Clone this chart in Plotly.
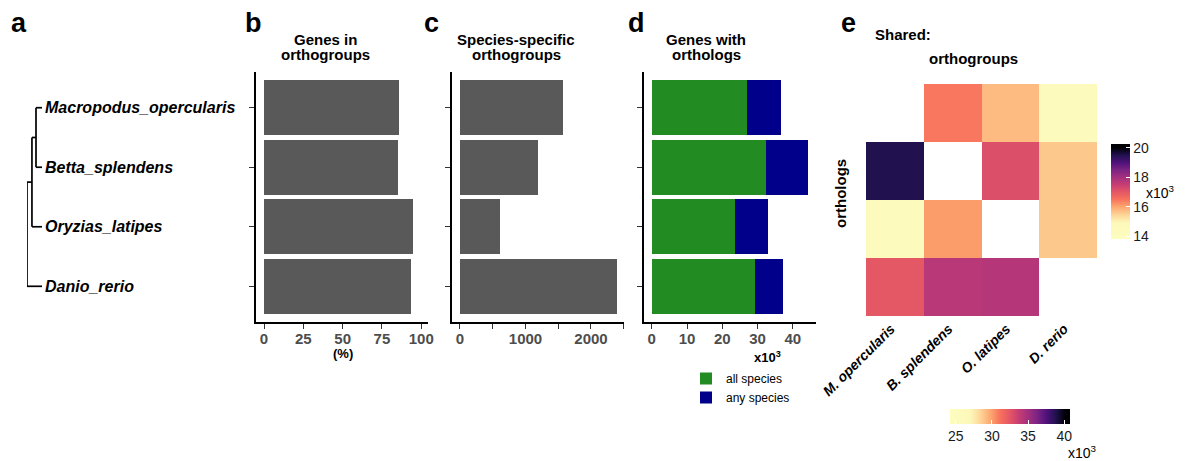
import plotly.graph_objects as go

W, H = 1195, 461
FONT = "Liberation Sans, Arial, Helvetica, sans-serif"

# ---------------- data ----------------
species = ["Macropodus_opercularis", "Betta_splendens", "Oryzias_latipes", "Danio_rerio"]
short_names = ["M. opercularis", "B. splendens", "O. latipes", "D. rerio"]
genes_in_og_pct = [85.9, 85.2, 94.8, 93.5]
species_specific_og = [1573, 1191, 611, 2397]
orthologs_all_species = [26.9, 32.3, 23.5, 29.2]   # x10^3
orthologs_any_species = [9.9, 12.1, 9.4, 8.1]      # x10^3
b_ticks = [0, 25, 50, 75, 100]
c_ticks = [0, 1000, 2000]
c_minor_ticks = [500, 1500, 2500]
d_ticks = [0, 10, 20, 30, 40]
# tree topology (((M,B),O),D) with node depths (cladogram)
tree = (((0, 1), 2), 3)
level_depth = [0.0, 0.33, 0.6]
tip_depth = 1.0
# shared orthogroups (upper triangle, x10^3) and orthologs (lower triangle, x10^3)
shared_orthogroups = [
    [None, 31.0, 29.2, 25.9],
    [None, None, 32.8, 28.8],
    [None, None, None, 28.8],
    [None, None, None, None],
]
shared_orthologs = [
    [None, None, None, None],
    [19.5, None, None, None],
    [14.3, 16.1, None, None],
    [17.0, 17.7, 17.75, None],
]
og_ticks = [25, 30, 35, 40]
orth_ticks = [14, 16, 18, 20]

magma_custom = [
    [0.00, "#fcfdbf"], [0.17, "#fcf8ba"], [0.25, "#fed799"], [0.34, "#fca66f"],
    [0.42, "#f7705c"], [0.50, "#e35566"], [0.57, "#c73e73"], [0.65, "#a3307e"],
    [0.73, "#7a2382"], [0.80, "#51127c"], [0.88, "#221150"], [0.96, "#000004"],
    [1.00, "#000004"],
]


def px(x):
    return x / W


def py(y):
    return 1 - y / H


fig = go.Figure()

# ---------------- tree (panel a) ----------------
seg_x, seg_y = [], []


def draw(node, level):
    if isinstance(node, int):
        return node, tip_depth
    ys = []
    d = level_depth[level]
    for child in node:
        cy, cd = draw(child, level + 1)
        seg_x.extend([d, cd, None])
        seg_y.extend([cy, cy, None])
        ys.append(cy)
    seg_x.extend([d, d, None])
    seg_y.extend([min(ys), max(ys), None])
    return sum(ys) / len(ys), d


draw(tree, 0)
fig.add_trace(go.Scatter(x=seg_x, y=seg_y, mode="lines", line=dict(color="black", width=1.7),
                         xaxis="x", yaxis="y", showlegend=False, hoverinfo="skip"))

# ---------------- bars ----------------
cats = list(range(len(species)))
fig.add_trace(go.Bar(x=genes_in_og_pct, y=cats, orientation="h", width=0.92,
                     marker=dict(color="#595959", line=dict(width=0)),
                     xaxis="x2", yaxis="y2", showlegend=False))
fig.add_trace(go.Bar(x=species_specific_og, y=cats, orientation="h", width=0.92,
                     marker=dict(color="#595959", line=dict(width=0)),
                     xaxis="x3", yaxis="y3", showlegend=False))
fig.add_trace(go.Bar(x=orthologs_all_species, y=cats, orientation="h", width=0.92,
                     name="all species", marker=dict(color="#228b22", line=dict(width=0)),
                     xaxis="x4", yaxis="y4"))
fig.add_trace(go.Bar(x=orthologs_any_species, y=cats, orientation="h", width=0.92,
                     name="any species", marker=dict(color="#00008b", line=dict(width=0)),
                     xaxis="x4", yaxis="y4"))

# ---------------- heatmap ----------------
fig.add_trace(go.Heatmap(z=shared_orthogroups, x=cats, y=cats, coloraxis="coloraxis2",
                         xaxis="x5", yaxis="y5", hoverongaps=False))
fig.add_trace(go.Heatmap(z=shared_orthologs, x=cats, y=cats, coloraxis="coloraxis",
                         xaxis="x5", yaxis="y5", hoverongaps=False))

ydom = [py(322), py(72)]
tickfont = dict(family=FONT, size=15, color="#4d4d4d", weight="bold")


def bar_x(dom, rng, tickvals, minor=None):
    d = dict(domain=dom, range=rng, tickvals=tickvals, showline=True, linecolor="black",
             linewidth=1.5, ticks="outside", ticklen=5, tickwidth=1.3, tickcolor="#333333",
             showgrid=False, zeroline=False, tickfont=tickfont, fixedrange=True,
             automargin=False, ticklabelstandoff=-3)
    if minor is not None:
        d["minor"] = dict(tickvals=minor, ticks="outside", ticklen=5, tickwidth=1.3,
                          tickcolor="#333333", showgrid=False)
    return d


def bar_y(anchor):
    return dict(domain=ydom, range=[3.6, -0.6], tickvals=cats, showticklabels=False,
                showline=True, linecolor="black", linewidth=1.5, ticks="outside",
                ticklen=5, tickwidth=1.3, tickcolor="#333333", showgrid=False,
                zeroline=False, anchor=anchor, fixedrange=True, automargin=False)


fig.update_layout(
    width=W, height=H, margin=dict(l=0, r=0, t=0, b=0, autoexpand=False),
    paper_bgcolor="white", plot_bgcolor="white",
    barmode="stack", bargap=0,
    font=dict(family=FONT, color="black"),
    xaxis=dict(domain=[px(27), px(42)], range=[0, 1], visible=False, fixedrange=True),
    yaxis=dict(domain=ydom, range=[3.6, -0.6], visible=False, fixedrange=True),
    xaxis2=dict(bar_x([px(256), px(428)], [-5.1, 104.3], b_ticks), anchor="y2"),
    yaxis2=bar_y("x2"),
    xaxis3=dict(bar_x([px(452), px(624)], [-122, 2504], c_ticks, c_minor_ticks), anchor="y3"),
    yaxis3=bar_y("x3"),
    xaxis4=dict(bar_x([px(644), px(816)], [-2.2, 46.6], d_ticks), anchor="y4"),
    yaxis4=bar_y("x4"),
    xaxis5=dict(domain=[px(866), px(1097)], range=[-0.5, 3.5], tickvals=cats,
                ticktext=short_names, tickangle=-45, ticks="", showline=False,
                showgrid=False, zeroline=False, anchor="y5", ticklabelstandoff=1,
                ticklabelshift=-4, automargin=False,
                tickfont=dict(family=FONT, size=14, color="black", weight="bold", style="italic")),
    yaxis5=dict(domain=[py(316), py(84)], range=[3.5, -0.5], showticklabels=False,
                ticks="", showline=False, showgrid=False, zeroline=False, anchor="x5",
                automargin=False),
    coloraxis=dict(colorscale=magma_custom, cmin=13.8, cmax=20.27,
                   colorbar=dict(orientation="v", x=px(1111), xanchor="left", xpad=0, ypad=0,
                                 y=py(191.5), yanchor="middle", len=95, lenmode="pixels",
                                 thickness=19, outlinewidth=0, tickvals=orth_ticks,
                                 ticks="inside", tickcolor="white", ticklen=4, tickwidth=1,
                                 tickfont=dict(family=FONT, size=14, color="#1a1a1a"))),
    coloraxis2=dict(colorscale=magma_custom, cmin=24.2, cmax=40.8,
                    colorbar=dict(orientation="h", x=px(1010), xanchor="center", xpad=0, ypad=0,
                                  y=py(409), yanchor="top", len=120, lenmode="pixels",
                                  thickness=15, outlinewidth=0, tickvals=og_ticks,
                                  ticks="inside", tickcolor="white", ticklen=4, tickwidth=1,
                                  tickfont=dict(family=FONT, size=14, color="#1a1a1a"))),
    legend=dict(x=px(686), y=py(364), xanchor="left", yanchor="top", bgcolor="rgba(0,0,0,0)",
                font=dict(family=FONT, size=12, color="black"), tracegroupgap=0,
                traceorder="normal"),
)

ann = []


def add_text(text, x, y, size, xanchor="center", yanchor="middle", weight="normal",
             style="normal", textangle=0, color="black", xref="paper", yref="paper"):
    ann.append(dict(text=text, x=x, y=y, xref=xref, yref=yref, showarrow=False,
                    xanchor=xanchor, yanchor=yanchor, textangle=textangle,
                    font=dict(family=FONT, size=size, color=color, weight=weight, style=style)))


# panel letters
for letter, xpos in [("a", 19), ("b", 253), ("c", 431), ("d", 636), ("e", 848)]:
    add_text(letter, px(xpos), py(23), 27, weight="bold")

# titles (two lines each, tight line spacing as in the reference)
titles = [(325, "Genes in", "orthogroups"),
          (516, "Species-specific", "orthogroups"),
          (706, "Genes with", "orthologs")]
for xc, l1, l2 in titles:
    add_text(l1, px(xc), py(39), 15, weight="bold")
    add_text(l2, px(xc), py(55), 15, weight="bold")
add_text("Shared:", px(873), py(35), 15, xanchor="left", weight="bold")
add_text("orthogroups", px(973), py(59), 15, weight="bold")
add_text("orthologs", px(840), py(193), 15, weight="bold", textangle=-90)
add_text("(%)", px(343), py(353), 13, weight="bold")
add_text("x10<sup>3</sup>", px(767), py(357), 13, weight="bold")
add_text("x10<sup>3</sup>", px(1160), py(192), 14)
add_text("x10<sup>3</sup>", px(1082), py(452), 14)

# tree tip labels
for i, name in enumerate(species):
    add_text(name, tip_depth, i, 16, xanchor="left", weight="bold", style="italic",
             xref="x", yref="y")
    ann[-1]["xshift"] = 1

fig.update_layout(annotations=ann)

fig.write_html("out.html", config={"displayModeBar": False},
               post_script="document.body.style.margin='0';")
